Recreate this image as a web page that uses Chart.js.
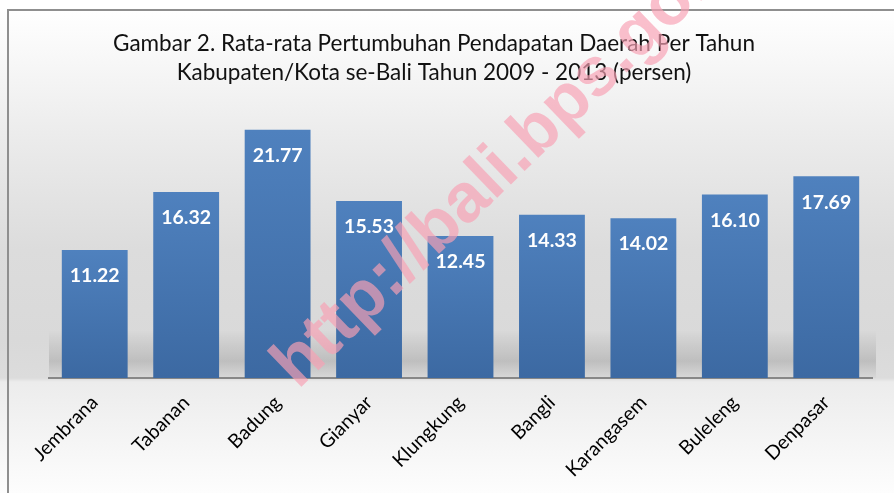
<!DOCTYPE html>
<html><head><meta charset="utf-8">
<script src="https://cdn.jsdelivr.net/npm/chart.js@4/dist/chart.umd.min.js"></script>
<style>html,body{margin:0;padding:0;background:#fff}#wrap{width:894px;height:493px;position:relative}</style>
</head><body><div id="wrap"><canvas id="c" width="894" height="493"></canvas></div>
<script>
const categories = ["Jembrana","Tabanan","Badung","Gianyar","Klungkung","Bangli","Karangasem","Buleleng","Denpasar"];
const growth = [11.22,16.32,21.77,15.53,12.45,14.33,14.02,16.10,17.69];
const titleLines = ["Gambar 2. Rata-rata Pertumbuhan Pendapatan Daerah Per Tahun","Kabupaten/Kota se-Bali Tahun 2009 - 2013 (persen)"];
const watermarkText = "http://bali.bps.go.id";
const yMin = 0, yMax = 25;

const clamp01 = v => Math.max(0, Math.min(1, v));

const bgPlugin = {
  id: 'bg',
  beforeDraw(chart) {
    const {ctx, width, height, chartArea} = chart;
    ctx.save();
    const H = 493;
    const g = ctx.createLinearGradient(0, 0, 0, H);
    g.addColorStop(clamp01(0.02), '#ffffff');
    g.addColorStop(clamp01(140/H), '#ebebeb');
    g.addColorStop(clamp01(250/H), '#dcdcdc');
    g.addColorStop(clamp01(340/H), '#d9d9d9');
    g.addColorStop(clamp01(378/H), '#dcdcdc');
    g.addColorStop(clamp01(382/H), '#ececec');
    g.addColorStop(1, '#fdfdfd');
    ctx.fillStyle = g;
    ctx.fillRect(0, 0, width, height);
    // shadow band behind bars
    const sTop = chartArea.bottom - 48, sBot = chartArea.bottom;
    const sg = ctx.createLinearGradient(0, sTop, 0, sBot);
    sg.addColorStop(0, 'rgba(0,0,0,0)');
    sg.addColorStop(0.65, 'rgba(0,0,0,0.13)');
    sg.addColorStop(1, 'rgba(0,0,0,0.02)');
    ctx.fillStyle = sg;
    ctx.fillRect(chartArea.left, sTop, chartArea.right - chartArea.left + 4, sBot - sTop);
    // outer border
    ctx.strokeStyle = '#8f8f8f';
    ctx.lineWidth = 2;
    ctx.strokeRect(8, 10, width + 20, height + 20);
    ctx.restore();
  },
  afterDatasetsDraw(chart) {
    const {ctx} = chart;
    const meta = chart.getDatasetMeta(0);
    ctx.save();
    ctx.fillStyle = '#ffffff';
    ctx.font = 'bold 19.5px Lato';
    ctx.textAlign = 'center';
    ctx.textBaseline = 'middle';
    meta.data.forEach((bar, i) => {
      ctx.fillText(growth[i].toFixed(2), bar.x, bar.y + 26);
    });
    ctx.restore();
  },
  afterDraw(chart) {
    const {ctx} = chart;
    ctx.save();
    ctx.fillStyle = '#111';
    ctx.font = '22.5px Lato';
    ctx.textAlign = 'center';
    ctx.textBaseline = 'alphabetic';
    ctx.fillText(titleLines[0], 434, 51);
    ctx.fillText(titleLines[1], 434, 80);
    // watermark
    ctx.translate(298, 390);
    ctx.rotate(-44 * Math.PI / 180);
    ctx.font = 'bold 69px "Liberation Sans"';
    ctx.fillStyle = 'rgba(247,160,180,0.68)';
    ctx.textAlign = 'left';
    ctx.fillText(watermarkText, 0, 0);
    ctx.restore();
  }
};

new Chart(document.getElementById('c'), {
  type: 'bar',
  data: {
    labels: categories,
    datasets: [{
      data: growth,
      backgroundColor(ctx) {
        const chart = ctx.chart;
        const ca = chart.chartArea;
        if (!ca || ctx.type !== 'data') return '#4a7ab5';
        const y = chart.scales.y;
        const top = y.getPixelForValue(ctx.parsed.y);
        const bot = y.getPixelForValue(0);
        const g = chart.ctx.createLinearGradient(0, top, 0, bot);
        g.addColorStop(0, '#4f81be');
        g.addColorStop(1, '#3c69a2');
        return g;
      },
      borderWidth: 0,
      barPercentage: 0.72,
      categoryPercentage: 1
    }]
  },
  options: {
    responsive: false,
    animation: false,
    devicePixelRatio: 1,
    layout: { padding: { left: 49, right: 22, top: 93, bottom: 0 } },
    plugins: { legend: { display: false }, title: { display: false }, tooltip: { enabled: false } },
    scales: {
      x: {
        grid: { display: false },
        border: { display: true, color: '#878787', width: 2 },
        ticks: { color: '#000', font: { family: 'Lato', size: 19.5 }, minRotation: 45, maxRotation: 45, padding: 5 },
        afterFit(s) { s.height = 115; }
      },
      y: { display: false, min: yMin, max: yMax }
    }
  },
  plugins: [bgPlugin]
});
</script>
</body></html>
